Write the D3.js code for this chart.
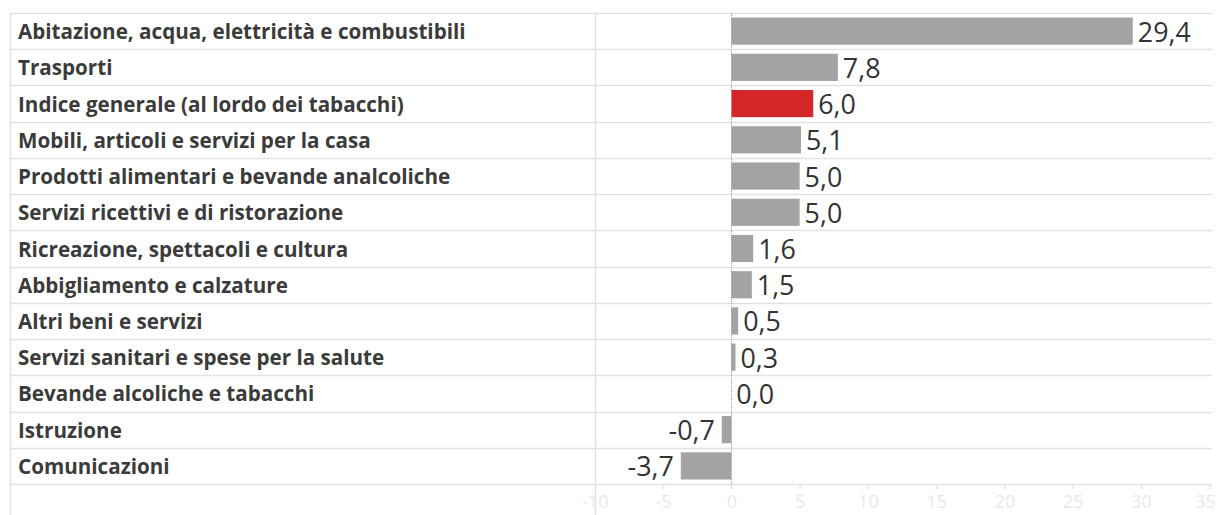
<!DOCTYPE html>
<html>
<head>
<meta charset="utf-8">
<script src="https://cdn.jsdelivr.net/npm/d3@7"></script>
<style>
  html, body { margin: 0; padding: 0; background: #ffffff; }
  svg { display: block; }
</style>
</head>
<body>
<svg id="chart" width="1217" height="515"></svg>
<script>
const categories = [
  "Abitazione, acqua, elettricità e combustibili",
  "Trasporti",
  "Indice generale (al lordo dei tabacchi)",
  "Mobili, articoli e servizi per la casa",
  "Prodotti alimentari e bevande analcoliche",
  "Servizi ricettivi e di ristorazione",
  "Ricreazione, spettacoli e cultura",
  "Abbigliamento e calzature",
  "Altri beni e servizi",
  "Servizi sanitari e spese per la salute",
  "Bevande alcoliche e tabacchi",
  "Istruzione",
  "Comunicazioni"
];
const values = [29.4, 7.8, 6.0, 5.1, 5.0, 5.0, 1.6, 1.5, 0.5, 0.3, 0.0, -0.7, -3.7];
const highlight = ["Indice generale (al lordo dei tabacchi)"];
const tickValues = [-10, -5, 0, 5, 10, 15, 20, 25, 30, 35];
const tickLabels = ["-10", "-5", "0", "5", "10", "15", "20", "25", "30", "35"];

(function () {
const svg = d3.select("#chart");
const W = 1217, H = 515;
const mLeft = 10, mRight = 1212, mTop = 13, mBottom = 484, paneLeft = 594.8;

const y = d3.scaleBand().domain(categories).range([mTop, mBottom]).padding(0);
const x = d3.scaleLinear().domain([-10, 35.2]).range([paneLeft, mRight]);

const gridColor = "#e2e2e2";

// row lines
const rowEdges = categories.map(c => y(c)).concat([mBottom]);
svg.append("g").selectAll("line").data(rowEdges).join("line")
  .attr("x1", mLeft).attr("x2", mRight)
  .attr("y1", d => Math.round(d) + 0.5).attr("y2", d => Math.round(d) + 0.5)
  .attr("stroke", gridColor).attr("stroke-width", 1.5);

// vertical borders
[mLeft, paneLeft].forEach(vx => {
  svg.append("line")
    .attr("x1", Math.round(vx) + 0.5).attr("x2", Math.round(vx) + 0.5)
    .attr("y1", mTop).attr("y2", H)
    .attr("stroke", gridColor).attr("stroke-width", 1.5);
});

// labels
const labels = svg.append("g").selectAll("text").data(categories).join("text")
  .attr("x", 18)
  .attr("y", d => y(d) + y.bandwidth() / 2)
  .attr("dominant-baseline", "central")
  .attr("font-family", "'Open Sans', sans-serif")
  .attr("font-weight", "bold")
  .attr("font-size", 17)
  .attr("fill", "#3b3b3b")
  .text(d => d);
{
  const w = labels.nodes()[0].getComputedTextLength();
  labels.attr("font-size", (17 * 448 / w).toFixed(2));
}

// bars
const barH = y.bandwidth() * 0.75;
svg.append("g").selectAll("rect").data(categories).join("rect")
  .attr("x", (d, i) => x(Math.min(0, values[i])))
  .attr("width", (d, i) => Math.abs(x(values[i]) - x(0)))
  .attr("y", d => y(d) + (y.bandwidth() - barH) / 2)
  .attr("height", barH)
  .attr("fill", d => highlight.includes(d) ? "#d62728" : "#a3a3a3");

// zero line
svg.append("line")
  .attr("x1", Math.round(x(0)) + 0.5).attr("x2", Math.round(x(0)) + 0.5)
  .attr("y1", mTop).attr("y2", mBottom)
  .attr("stroke", "#9a9a9a").attr("stroke-width", 1)
  .attr("stroke-dasharray", "1,1");

// value labels
const fmt = v => v.toFixed(1).replace(".", ",");
const vals = svg.append("g").selectAll("text").data(categories).join("text")
  .attr("x", (d, i) => values[i] < 0 ? x(values[i]) - 7 : x(values[i]) + 5)
  .attr("y", d => y(d) + y.bandwidth() / 2)
  .attr("dominant-baseline", "central")
  .attr("text-anchor", (d, i) => values[i] < 0 ? "end" : "start")
  .attr("font-family", "'Open Sans', sans-serif")
  .attr("font-size", 22)
  .attr("fill", "#333333")
  .text((d, i) => fmt(values[i]));
{
  const w = vals.nodes()[0].getComputedTextLength();
  vals.attr("font-size", (22 * 53 / w).toFixed(2));
}

// axis
const axis = d3.axisBottom(x)
  .tickValues(tickValues)
  .tickFormat((d, i) => tickLabels[i])
  .tickSize(5)
  .tickPadding(6);
const ag = svg.append("g").attr("transform", `translate(0,${mBottom})`).call(axis);
ag.select(".domain").remove();
ag.selectAll(".tick line").attr("stroke", gridColor).attr("stroke-width", 1.5);
ag.selectAll(".tick text")
  .attr("fill", "#e8e8e8")
  .attr("font-family", "'Open Sans', sans-serif")
  .attr("font-size", 18)
  .attr("dy", null)
  .attr("y", 24)
  .attr("text-anchor", d => d === tickValues[tickValues.length - 1] ? "end" : "middle")
  .attr("dx", d => d === tickValues[tickValues.length - 1] ? 6 : 0);
})();
</script>
</body>
</html>
